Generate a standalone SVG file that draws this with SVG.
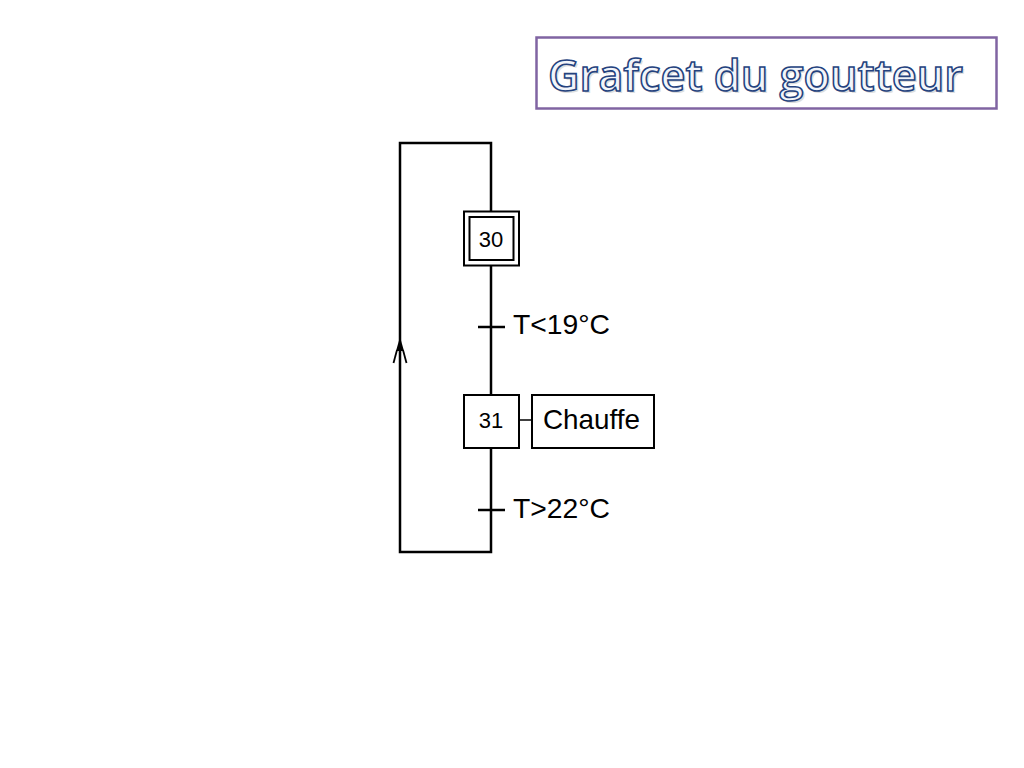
<svg xmlns="http://www.w3.org/2000/svg" width="1024" height="768" viewBox="0 0 1024 768">
<style>
.ln{stroke:#000;stroke-width:2.5;fill:none}
.box{stroke:#000;stroke-width:2;fill:#fff}
.num{font-family:"Liberation Sans",Arial,sans-serif;fill:#000;font-size:22px}
.cond{font-family:"Liberation Sans",Arial,sans-serif;fill:#000;font-size:28px}
.title{font-family:"Open Sans","Noto Sans",sans-serif;font-weight:600;font-size:44px}
</style>
<rect width="1024" height="768" fill="#fff"/>
<g id="title">
<rect x="536.5" y="37.5" width="460" height="71" fill="#fff" stroke="#8064a2" stroke-width="2.5"/>
<text class="title" x="550" y="93" textLength="415" lengthAdjust="spacingAndGlyphs" fill="#c8c8c8" opacity="0.6">Grafcet du goutteur</text>
<text class="title" x="548" y="91" textLength="415" lengthAdjust="spacingAndGlyphs" fill="#f2f5fa" stroke="#24427e" stroke-width="1.6">Grafcet du goutteur</text>
</g>
<g id="connectors">
<polyline class="ln" points="491,211 491,143 400,143 400,552 491,552 491,448"/>
<line class="ln" x1="491" y1="266" x2="491" y2="395"/>
<line class="ln" x1="478" y1="327" x2="505" y2="327"/>
<line class="ln" x1="478" y1="510" x2="505" y2="510"/>
<line x1="519" y1="420" x2="531" y2="420" stroke="#000" stroke-width="1.5"/>
<polygon points="400,337 396,351 404,351" fill="#000"/>
<line x1="397" y1="350" x2="393.5" y2="363" stroke="#000" stroke-width="1.8"/>
<line x1="403" y1="350" x2="406.5" y2="363" stroke="#000" stroke-width="1.8"/>
</g>
<g id="step30">
<rect class="box" x="464" y="211.5" width="55" height="54"/>
<rect class="box" x="469.5" y="217" width="44" height="43"/>
<text class="num" x="491" y="247" text-anchor="middle">30</text>
</g>
<g id="t1"><text class="cond" x="513" y="334" textLength="97" lengthAdjust="spacingAndGlyphs">T&lt;19°C</text></g>
<g id="step31">
<rect class="box" x="464" y="395" width="55" height="53"/>
<text class="num" x="491" y="428" text-anchor="middle">31</text>
</g>
<g id="action31">
<rect class="box" x="532" y="395" width="122" height="53"/>
<text class="cond" x="543" y="429" textLength="97" lengthAdjust="spacingAndGlyphs">Chauffe</text>
</g>
<g id="t2"><text class="cond" x="513" y="518" textLength="97" lengthAdjust="spacingAndGlyphs">T&gt;22°C</text></g>
</svg>
